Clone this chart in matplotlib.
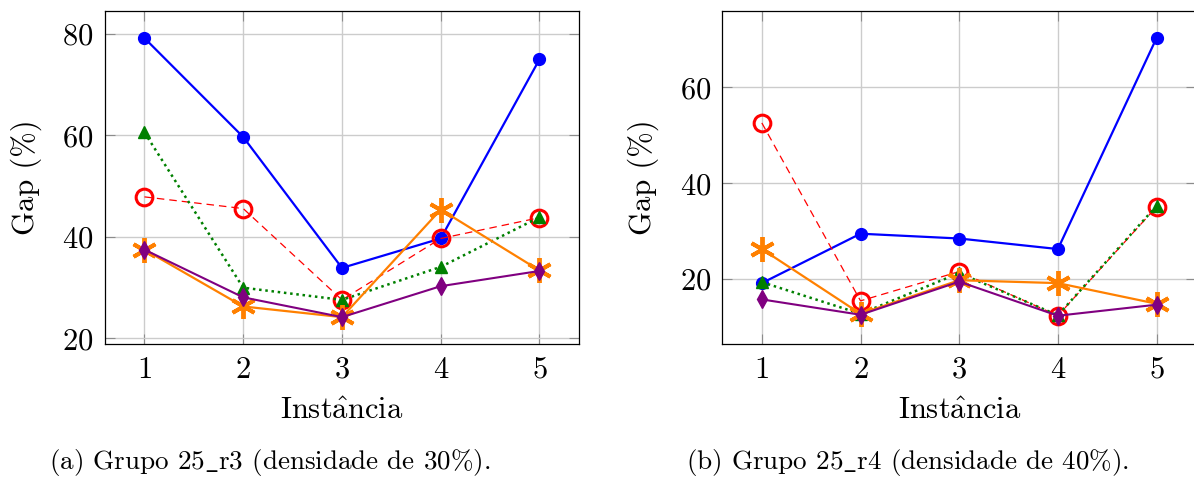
import matplotlib
matplotlib.use("Agg")
import matplotlib.pyplot as plt

plt.rcParams['font.family'] = 'serif'
plt.rcParams['font.serif'] = ['cmr10']
plt.rcParams['mathtext.fontset'] = 'cm'
plt.rcParams['axes.formatter.use_mathtext'] = True
plt.rcParams['font.size'] = 22

instancias = [1, 2, 3, 4, 5]

# grupo 25_r3
r3_azul = [79.2, 59.7, 33.9, 39.7, 75.0]
r3_vermelho = [47.9, 45.6, 27.6, 39.7, 43.8]
r3_verde = [60.6, 30.0, 27.6, 34.1, 43.9]
r3_laranja = [37.5, 26.3, 24.2, 45.4, 33.4]
r3_roxo = [37.5, 28.1, 24.2, 30.3, 33.3]

# grupo 25_r4
r4_azul = [19.2, 29.5, 28.5, 26.3, 70.3]
r4_vermelho = [52.6, 15.5, 21.6, 12.4, 35.1]
r4_verde = [19.4, 12.8, 21.3, 12.5, 35.3]
r4_laranja = [26.3, 12.8, 19.8, 19.2, 14.9]
r4_roxo = [15.8, 12.6, 19.5, 12.4, 14.7]


def desenha(ax, azul, vermelho, verde, laranja, roxo, ylim, yticks):
    ax.plot(instancias, azul, color='#0000ff', lw=1.6, marker='o', ms=8.5)
    ax.plot(instancias, vermelho, color='#ff0000', lw=0.9, ls=(0, (6, 4)),
            marker='o', ms=12, mfc='none', mew=2.2)
    ax.plot(instancias, verde, color='#008000', lw=1.8, ls=(0, (1, 1.5)),
            marker='^', ms=8)
    ax.plot(instancias, laranja, color='#ff8000', lw=1.6,
            marker=(6, 2, 0), ms=18, mew=2.8)
    ax.plot(instancias, roxo, color='#800080', lw=1.5, marker='d', ms=9)
    ax.set_xlim(0.6, 5.4)
    ax.set_ylim(*ylim)
    ax.set_xticks(instancias)
    ax.set_yticks(yticks)
    ax.grid(True, color='#cccccc', lw=1.0)
    ax.set_axisbelow(True)
    ax.tick_params(direction='in', length=7, width=0.8, color='0.55',
                   top=True, right=True, labelsize=22)
    ax.tick_params(axis='x', pad=9)
    ax.tick_params(axis='y', pad=8)
    for s in ax.spines.values():
        s.set_linewidth(0.9)
    ax.set_xlabel(r'Inst$\hat{\mathrm{a}}$ncia', fontsize=22, labelpad=10)
    ax.set_ylabel('Gap (%)', fontsize=22, labelpad=15)


fig = plt.figure(figsize=(11.94, 4.79), dpi=100)
ax1 = fig.add_axes([0.0879, 0.2818, 0.397, 0.6959])
ax2 = fig.add_axes([0.605, 0.2818, 0.3967, 0.6959])

desenha(ax1, r3_azul, r3_vermelho, r3_verde, r3_laranja, r3_roxo,
        (18.9, 84.6), [20, 40, 60, 80])
desenha(ax2, r4_azul, r4_vermelho, r4_verde, r4_laranja, r4_roxo,
        (6.5, 76.0), [20, 40, 60])

fig.text(0.226, 0.021, r'(a) Grupo 25$\_$r3 (densidade de 30%).',
         ha='center', va='baseline', fontsize=19.5)
fig.text(0.7596, 0.021, r'(b) Grupo 25$\_$r4 (densidade de 40%).',
         ha='center', va='baseline', fontsize=19.5)

fig.savefig('out.png', dpi=100)
